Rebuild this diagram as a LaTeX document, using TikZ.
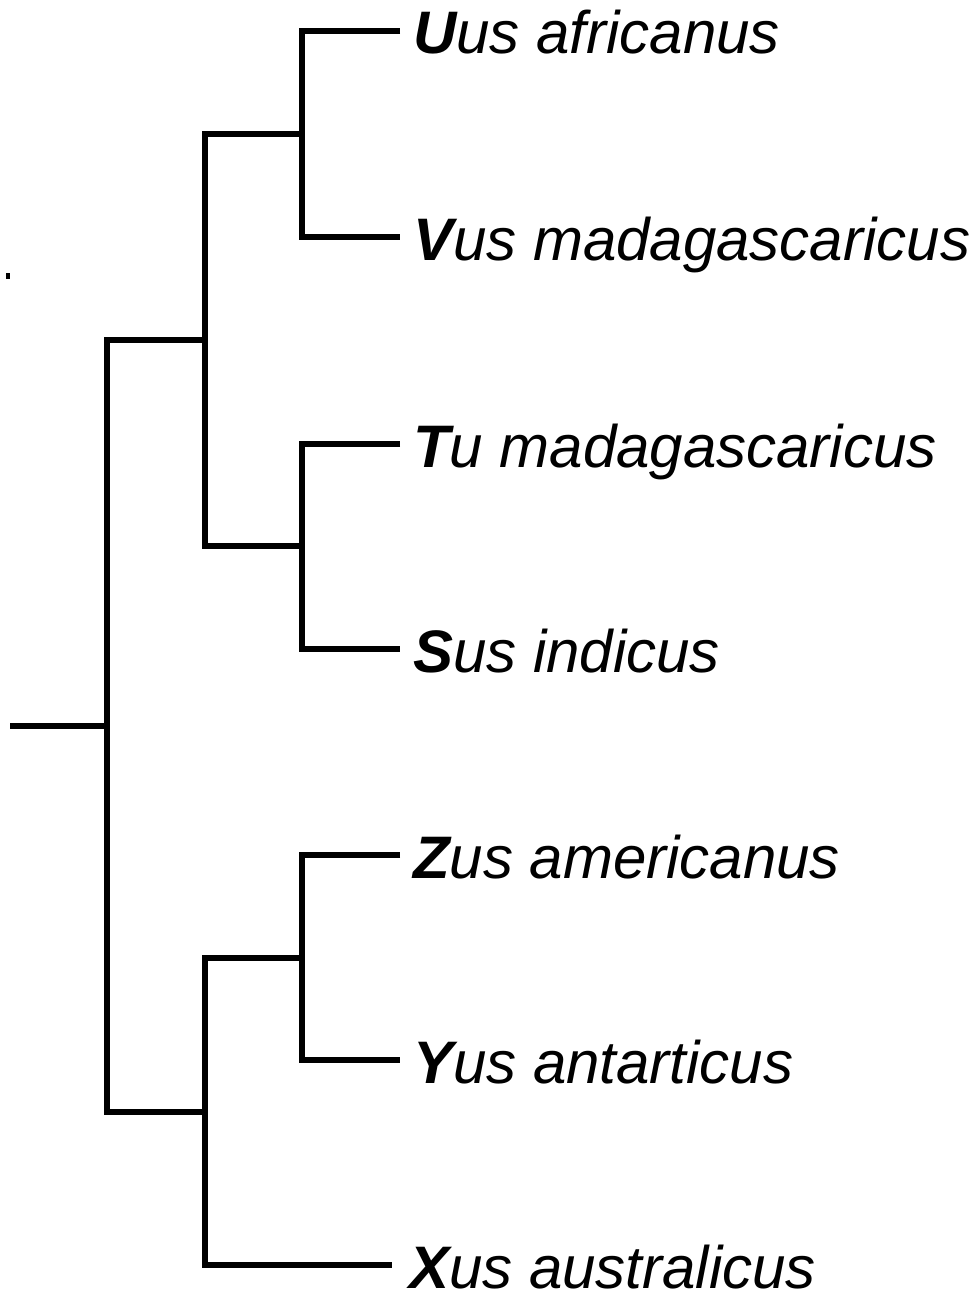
\documentclass[tikz,border=0pt]{standalone}
\usepackage{fontspec}
\setmainfont{Liberation Sans}
\usetikzlibrary{calc}
\tikzset{
  branch/.style={line width=6pt, line cap=butt, line join=miter},
  taxon/.style={anchor=west, inner xsep=13pt, inner ysep=0pt,
    text height=46pt, text depth=0pt,
    font=\fontsize{60}{60}\selectfont\itshape}
}
\newcommand{\genus}[1]{\textbf{#1}}

\begin{document}
\begin{tikzpicture}[x=1pt, y=-1pt]
\useasboundingbox (0,0) rectangle (976,1292);
% taxa
\node[taxon] (U) at (400,31) {\genus{U}us africanus};
\node[taxon] (V) at (400,237) {\genus{V}us madagascaricus};
\node[taxon] (T) at (400,444) {\genus{T}u madagascaricus};
\node[taxon] (S) at (400,649) {\genus{S}us indicus};
\node[taxon] (Z) at (400,855) {\genus{Z}us americanus};
\node[taxon] (Y) at (400,1060) {\genus{Y}us antarticus};
\node[taxon, inner xsep=17pt] (X) at (392,1265) {\genus{X}us australicus};
% internal nodes
\coordinate (uv) at (302,134);
\coordinate (ts) at (302,546);
\coordinate (uvts) at (205,340);
\coordinate (zy) at (302,958);
\coordinate (zyx) at (205,1112);
\coordinate (all) at (107,726);
\coordinate (base) at (10,726);
% branches
\draw[branch] (U.west) -| (uv) |- (V.west);
\draw[branch] (T.west) -| (ts) |- (S.west);
\draw[branch] (Z.west) -| (zy) |- (Y.west);
\draw[branch] (uv) -| (uvts) |- (ts);
\draw[branch] (zy) -| (zyx) |- (X.west);
\draw[branch] (uvts) -| (all) |- (zyx);
\draw[branch] (base) -- (all);
\fill (6,273) rectangle (10,279);
\end{tikzpicture}
\end{document}
